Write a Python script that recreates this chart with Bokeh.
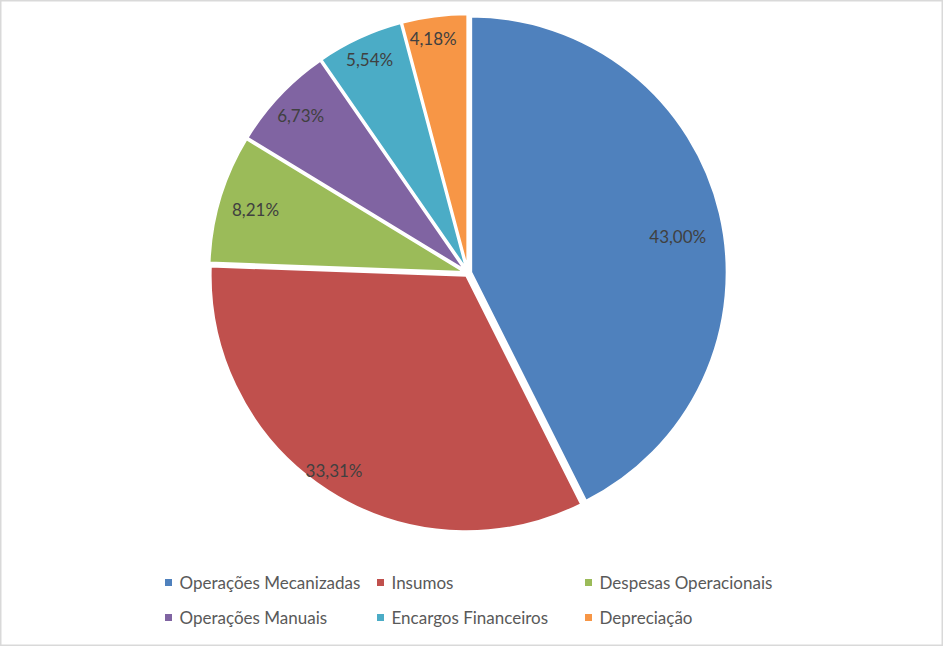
import numpy as np
from bokeh.plotting import figure
from bokeh.models import ColumnDataSource, Range1d
from bokeh.core.properties import value
from bokeh.embed import file_html
from bokeh.resources import INLINE

categories = ["Operações Mecanizadas", "Insumos", "Despesas Operacionais",
              "Operações Manuais", "Encargos Financeiros", "Depreciação"]
values = [43.00, 33.31, 8.21, 6.73, 5.54, 4.18]
colors = ["#4F81BD", "#C0504D", "#9BBB59", "#8064A2", "#4BACC6", "#F79646"]

# layout (pixel coordinates of 943x646 canvas, y measured from bottom)
W, H = 943, 646
CX, CY, R = 467.5, H - 272.5, 256.0
EXPLODE = 3.0
label_r = [0.82, 0.92, 0.855, 0.887, 0.905, 0.915]
label_da = [3.5, 1.5, 0.0, 0.0, 0.0, -1.0]   # degrees, clockwise
legend_cols_x = [168, 380, 588]
legend_rows_y = [H - 582, H - 617]

vals = np.array(values)
frac = vals / vals.sum()
cum = np.concatenate([[0], np.cumsum(frac)])
start_cw = cum[:-1] * 2 * np.pi          # clockwise from top
end_cw = cum[1:] * 2 * np.pi
mid_cw = (start_cw + end_cw) / 2
dx = np.sin(mid_cw)
dy = np.cos(mid_cw)
wx = CX + EXPLODE * dx
wy = CY + EXPLODE * dy

src = ColumnDataSource(dict(
    x=wx, y=wy,
    start=np.pi / 2 - start_cw, end=np.pi / 2 - end_cw,
    color=colors, cat=categories,
))

lab_ang = mid_cw + np.radians(label_da)
lab = ColumnDataSource(dict(
    x=wx + np.array(label_r) * R * np.sin(lab_ang),
    y=wy + np.array(label_r) * R * np.cos(lab_ang),
    text=[f"{v:.2f}".replace(".", ",") + "%" for v in values],
))

p = figure(width=W, height=H, x_range=Range1d(0, W), y_range=Range1d(0, H),
           output_backend="svg", toolbar_location=None, min_border=0,
           background_fill_color="white", border_fill_color="white")
p.axis.visible = False
p.grid.visible = False
p.outline_line_color = "#D9D9D9"
p.outline_line_width = 2

p.wedge(x="x", y="y", radius=R, start_angle="start", end_angle="end",
        direction="clock", fill_color="color", line_color="white",
        line_width=2.5, source=src)

p.text(x="x", y="y", text="text", source=lab, text_align="center",
       text_baseline="middle", text_font=value("Lato"), text_font_size="17px",
       text_color="#404040")

# legend
lx = [legend_cols_x[i % 3] for i in range(len(categories))]
ly = [legend_rows_y[i // 3] for i in range(len(categories))]
leg = ColumnDataSource(dict(x=lx, y=ly, tx=[v + 11 for v in lx], cat=categories, color=colors))
p.rect(x="x", y="y", width=7, height=7, fill_color="color", line_color=None, source=leg)
p.text(x="tx", y="y", text="cat", source=leg, text_align="left", text_baseline="middle",
       text_font=value("Lato"), text_font_size="17px", text_color="#595959")

open("out.html", "w").write(file_html(p, INLINE))
